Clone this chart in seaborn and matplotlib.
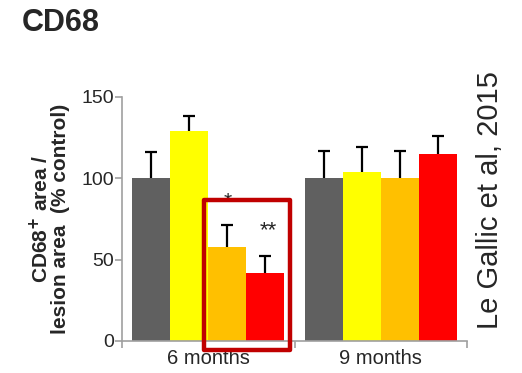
import pandas as pd
import seaborn as sns
import matplotlib.pyplot as plt
from matplotlib.patches import Rectangle

# data
groups = ["6 months", "9 months"]
treatments = ["Control", "T1", "T2", "T3"]
values_6m = [100, 129, 58, 42]
values_9m = [100, 104, 100, 115]
errors_6m = [16, 9, 13, 10]
errors_9m = [17, 15, 17, 11]
colors = ["#606060", "#ffff00", "#ffc000", "#ff0000"]

rows = []
for g, vals in zip(groups, [values_6m, values_9m]):
    for t, v in zip(treatments, vals):
        rows.append({"age": g, "treatment": t, "value": v})
df = pd.DataFrame(rows)

sns.set_style("white")
plt.rcParams["font.family"] = ["Liberation Sans", "DejaVu Sans"]

fig = plt.figure(figsize=(5.22, 3.73), dpi=100)
ax = fig.add_axes([0.234, 0.086, 0.661, 0.654])

sns.barplot(data=df, x="age", y="value", hue="treatment", palette=colors,
            width=0.88, gap=0, errorbar=None, legend=False, ax=ax,
            linewidth=0, saturation=1)

# upper error bars only (line + cap, no lower cap)
errs = [list(e) for e in zip(errors_6m, errors_9m)]
bar_conts = list(ax.containers)
for i, cont in enumerate(bar_conts):
    for bar, e in zip(cont, errs[i]):
        xc = bar.get_x() + bar.get_width() / 2
        h = bar.get_height()
        ax.vlines(xc, h, h + e, color="black", linewidth=1.6, zorder=3)
        ax.plot(xc, h + e, marker="_", markersize=8.6, mew=1.6, color="black", zorder=3)

ax.set_xlim(-0.5, 1.5)
ax.set_ylim(0, 150)
ax.set_yticks([0, 50, 100, 150])
ax.set_xticks([-0.5, 0.5, 1.5], minor=True)
ax.tick_params(axis="x", which="major", length=0, labelsize=14.5, pad=6)
ax.tick_params(axis="x", which="minor", length=5, width=1.2, color="#a0a0a0", direction="out", bottom=True)
ax.tick_params(axis="y", length=5, width=1.2, color="#a0a0a0", labelsize=14, pad=1, direction="out", left=True)
ax.set_xlabel("")
ax.set_ylabel("CD68$^\\mathbf{+}$ area /\nlesion area  (% control)", fontsize=15,
              fontweight="bold", labelpad=8, linespacing=0.95)
for s in ["top", "right"]:
    ax.spines[s].set_visible(False)
for s in ["left", "bottom"]:
    ax.spines[s].set_color("#a0a0a0")
    ax.spines[s].set_linewidth(1.2)

# significance stars
ax.text(0.114, 86, "*", ha="center", va="center", fontsize=15, zorder=2)
ax.text(0.346, 68, "**", ha="center", va="center", fontsize=16, zorder=5)

# highlight box
ax.add_patch(Rectangle((-0.025, -5.5), 0.499, 92.2, fill=False, edgecolor="#c00000",
                       linewidth=3.2, joinstyle="round", clip_on=False, zorder=6))

fig.text(22 / 522, 1 - 8 / 373, "CD68", fontsize=22, fontweight="bold", ha="left", va="top")
fig.text(490 / 522, 1 - 200 / 373, "Le Gallic et al, 2015", fontsize=21, rotation=90,
         ha="center", va="center")

fig.savefig("out.png", dpi=100)
